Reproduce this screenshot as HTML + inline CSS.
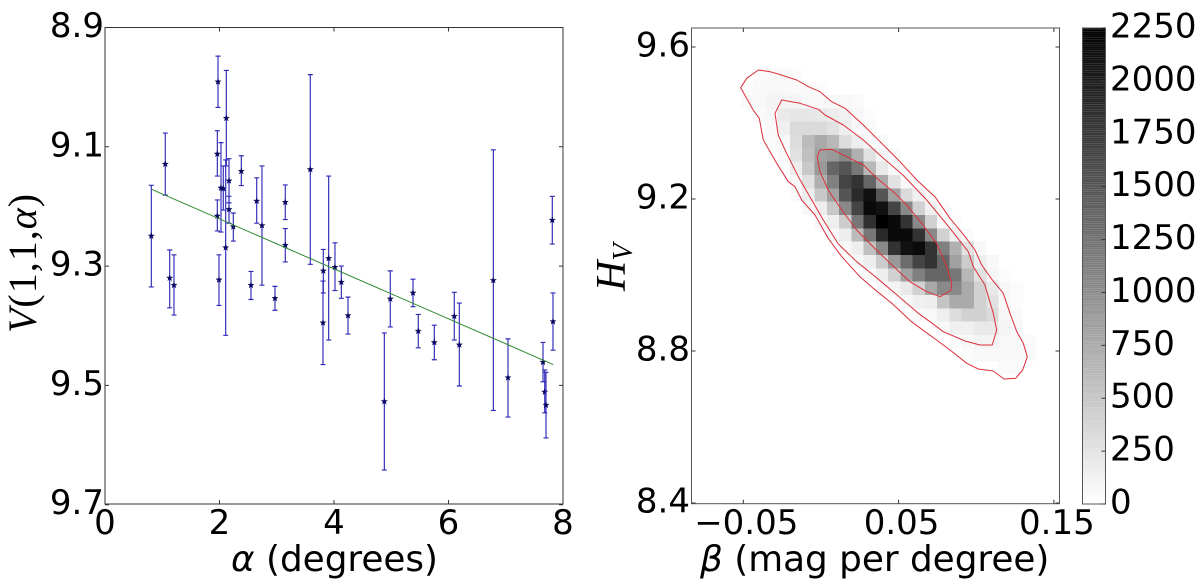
<!DOCTYPE html>
<html lang="en">
<head>
<meta charset="utf-8">
<title>Phase curve fit and posterior density</title>
<style>
html,body{margin:0;padding:0;background:#fff;}
#figure{display:block;width:1200px;height:582px;background:#fff;}
text{font-family:"DejaVu Sans","Liberation Sans",sans-serif;font-size:34px;fill:#000;}
.title{font-size:35.8px;}
.math{font-style:italic;}
.serif{font-family:"Liberation Serif","DejaVu Serif",serif;}
.y-math{font-size:40px;letter-spacing:1px;}
.h-math{font-size:42px;}
</style>
</head>
<body>
<svg id="figure" xmlns="http://www.w3.org/2000/svg" width="1200" height="582" viewBox="0 0 1200 582">
  <g id="left-panel"></g>
  <g id="right-panel"></g>
  <g id="colorbar"></g>
  <text x="231" y="571" class="title"><tspan class="math">α</tspan> (degrees)</text>
  <text transform="translate(36,333) rotate(-90)" class="y-math serif"><tspan class="math">V</tspan>(1,1,<tspan class="math">α</tspan>)</text>
  <text x="700" y="571" class="title"><tspan class="math">β</tspan> (mag per degree)</text>
  <text transform="translate(625,291) rotate(-90)" class="math serif h-math">H<tspan font-size="28" dy="7">V</tspan></text>
</svg>
<script>
// ---- left chart data ----
const alphaValues = [0.809,1.053,1.974,2.119,1.962,2.026,2.066,2.166,2.381,2.650,2.742,3.149,3.149,3.586,1.962,2.166,2.241,2.108,1.130,1.205,1.991,2.550,2.969,3.808,3.813,3.907,4.017,4.128,4.245,4.879,4.983,5.380,5.472,5.752,6.101,6.189,6.783,7.039,7.651,7.681,7.703,7.813,7.825];
const magnitudeValues = [9.2495,9.129,8.991,9.052,9.112,9.169,9.170,9.157,9.141,9.191,9.232,9.193,9.265,9.138,9.216,9.205,9.234,9.269,9.320,9.332,9.323,9.332,9.354,9.395,9.308,9.287,9.302,9.327,9.383,9.527,9.355,9.345,9.409,9.428,9.384,9.432,9.324,9.487,9.461,9.511,9.533,9.223,9.393];
const magnitudeUpper = [9.1645,9.077,8.948,8.972,9.073,9.093,9.132,9.120,9.115,9.152,9.132,9.164,9.237,8.979,9.189,9.183,9.211,9.122,9.273,9.281,9.281,9.309,9.334,9.325,9.272,9.149,9.261,9.300,9.352,9.412,9.308,9.322,9.381,9.399,9.344,9.362,9.105,9.422,9.428,9.474,9.478,9.183,9.345];
const magnitudeLower = [9.335,9.181,9.034,9.132,9.149,9.243,9.206,9.194,9.165,9.228,9.332,9.222,9.293,9.297,9.241,9.228,9.258,9.416,9.370,9.382,9.366,9.356,9.374,9.465,9.345,9.424,9.341,9.354,9.414,9.642,9.402,9.368,9.437,9.457,9.424,9.501,9.542,9.553,9.494,9.546,9.588,9.263,9.441];
const fitAlpha = [0.809,7.83];
const fitMagnitude = [9.171,9.465];
const leftXTicks = [0,2,4,6,8];
const leftYTicks = [8.9,9.1,9.3,9.5,9.7];

// ---- right chart data ----
const histBetaStart = -0.08316;
const histBetaStep = 0.0079;
const histHvStart = 9.5439;
const histHvStep = 0.03508;
const histFirstColumn = [5,4,4,5,6,6,7,7,8,8,9,10,11,12,13,14,15,17,18,20,21,22,25];
const histCounts = [
  [40,50,50,30],
  [30,50,60,60,50,40,30],
  [40,62,100,100,100,62,62,62,62,40],
  [40,62,190,220,220,200,170,120,62,30],
  [50,130,326,326,326,265,150,62,40],
  [40,62,300,600,750,630,300,150,62,40],
  [40,265,555,830,890,1040,700,265,80,40],
  [30,150,485,900,1350,1500,1200,630,194,62,30],
  [62,265,700,1125,1650,1800,1350,750,265,62,30],
  [40,150,485,830,1500,1880,2100,1500,830,326,132,40],
  [62,150,485,1040,1650,2160,2100,1650,1040,410,132,40],
  [62,150,450,1200,1830,2250,2160,1800,1040,410,62,30],
  [62,150,600,1200,1880,2160,2160,1800,1040,410,132,40],
  [62,150,555,1040,1800,2100,2150,1800,1125,700,265,62],
  [62,150,450,900,1300,1650,1800,1350,830,450,150,62],
  [62,150,410,830,1125,1350,1350,1200,630,265,80,30],
  [62,100,194,410,770,1040,1040,750,410,194,62,30],
  [62,130,150,520,750,750,410,265,62,30],
  [40,62,150,300,410,410,326,80,40],
  [62,130,130,194,194,90,62],
  [40,62,100,100,62,62,40],
  [40,62,62,62,62,40],
  [40,40]
];
const outerContourBeta = [-.0517,-.0478,-.0403,-.0328,-.0275,-.0156,-.0081,-.0006,.0069,.0155,.0273,.0391,.0509,.0617,.0734,.0831,.0928,.0992,.1035,.11,.1174,.1217,.1261,.1303,.1329,.1299,.1254,.1179,.111,.1013,.0939,.0831,.0745,.067,.0584,.0456,.0337,.0251,.0134,.0047,-.0038,-.0124,-.0167,-.021,-.0285,-.0371,-.0397,-.0436];
const outerContourHv = [9.4929,9.5176,9.5395,9.535,9.5289,9.5132,9.4955,9.4824,9.4561,9.4387,9.3947,9.3466,9.2982,9.25,9.2061,9.1492,9.1008,9.0658,9.0263,8.9887,8.9518,8.8992,8.8508,8.8203,8.785,8.75,8.7282,8.7263,8.7474,8.7526,8.7676,8.8026,8.8289,8.8508,8.8771,8.9255,8.965,8.9955,9.0482,9.0966,9.1579,9.1974,9.2324,9.2455,9.2939,9.3553,9.4124,9.4342];
const middleContourBeta = [-.0253,-.0135,-.0017,.0026,.0144,.0273,.0391,.0528,.0681,.0831,.0949,.0981,.1056,.111,.1132,.1103,.1024,.0928,.0788,.0702,.0627,.0477,.0337,.023,.0112,.0015,-.0071,-.0146,-.0221,-.0275,-.0296];
const middleContourHv = [9.4605,9.4518,9.4361,9.4211,9.3947,9.3553,9.3113,9.2632,9.1974,9.1229,9.0613,9.0218,8.9737,8.8992,8.8553,8.8158,8.8158,8.8263,8.8508,8.8771,8.8992,8.9518,9.0,9.035,9.0816,9.1447,9.2061,9.2587,9.3203,9.3684,9.4255];
const innerContourBeta = [-.0006,.0069,.0166,.0273,.0359,.0477,.0552,.0649,.0745,.081,.0842,.0838,.0767,.0681,.0573,.0445,.0337,.023,.0134,.0047,-.0006,-.0024];
const innerContourHv = [9.3289,9.3308,9.3113,9.2895,9.2553,9.215,9.1842,9.1361,9.0834,9.0218,8.9782,8.9605,8.9429,8.9561,8.9824,9.0308,9.0737,9.1184,9.1711,9.2237,9.2718,9.3113];
const rightXTicks = [-0.05,0.05,0.15];
const rightYTicks = [9.6,9.2,8.8,8.4];
const colorbarTicks = [0,250,500,750,1000,1250,1500,1750,2000,2250];
const colorbarMax = 2250;
const colorbarLevelCount = 256;

// ---- axis functions ----
const xLeft = a => 105 + 57.25 * a;
const yLeft = v => 27.5 + 596.5 * (v - 8.9);
const xRight = b => 820.95 + 1553 * b;
const yRight = h => 199 + 380 * (9.2 - h);
const yBar = c => 504 - c * 476 / colorbarMax;
const countGray = c => { const g = Math.round(255 * (1 - Math.min(c, colorbarMax) / colorbarMax)); return 'rgb(' + g + ',' + g + ',' + g + ')'; };

const NS = 'http://www.w3.org/2000/svg';
function make(tag, parent, attrs) {
  const el = document.createElementNS(NS, tag);
  for (const k in attrs) el.setAttribute(k, attrs[k]);
  parent.appendChild(el);
  return el;
}
const leftPanel = document.getElementById('left-panel');
const rightPanel = document.getElementById('right-panel');
const barPanel = document.getElementById('colorbar');
const AXIS = '#333';

// ---- left panel ----
for (let i = 0; i < alphaValues.length; i++) {
  const x = xLeft(alphaValues[i]), y = yLeft(magnitudeValues[i]);
  const top = yLeft(magnitudeUpper[i]), bot = yLeft(magnitudeLower[i]);
  const bar = make('path', leftPanel, {d: 'M' + x + ' ' + top + 'V' + bot + 'M' + (x - 2.5) + ' ' + top + 'h5M' + (x - 2.5) + ' ' + bot + 'h5', stroke: '#2f29b8', 'stroke-width': 1.15, fill: 'none'});
  
  
  let pts = '';
  for (let k = 0; k < 10; k++) {
    const r = k % 2 ? 1.3 : 3.2, t = -Math.PI / 2 + k * Math.PI / 5;
    pts += (x + r * Math.cos(t)).toFixed(2) + ',' + (y + r * Math.sin(t)).toFixed(2) + ' ';
  }
  const star = make('polygon', leftPanel, {points: pts, fill: '#06065e', stroke: '#06065e', 'stroke-width': 0.4});
  
  
}
const fit = make('line', leftPanel, {x1: xLeft(fitAlpha[0]), y1: yLeft(fitMagnitude[0]), x2: xLeft(fitAlpha[1]), y2: yLeft(fitMagnitude[1]), stroke: '#2f8a2f', 'stroke-width': 1});


const leftFrame = make('rect', leftPanel, {x: 105, y: 27.5, width: 458, height: 476.5, fill: 'none', stroke: AXIS, 'stroke-width': 1});


leftXTicks.forEach(t => {
  const x = xLeft(t);
  const tick = make('path', leftPanel, {d: 'M' + x + ' 504v-4M' + x + ' 27.5v4', stroke: AXIS, 'stroke-width': 1, fill: 'none'});
  
  
  const label = make('text', leftPanel, {x: x, y: 534, 'text-anchor': 'middle'});
  label.textContent = String(t);
  
  
});
leftYTicks.forEach(t => {
  const y = yLeft(t);
  const tick = make('path', leftPanel, {d: 'M105 ' + y + 'h4M563 ' + y + 'h-4', stroke: AXIS, 'stroke-width': 1, fill: 'none'});
  
  
  const label = make('text', leftPanel, {x: 104, y: y + 9.5, 'text-anchor': 'end'});
  label.textContent = t.toFixed(1);
  
  
});

// ---- right panel ----
histCounts.forEach((row, r) => {
  row.forEach((count, c) => {
    const col = histFirstColumn[r] + c;
    const x0 = xRight(histBetaStart + col * histBetaStep), x1 = xRight(histBetaStart + (col + 1) * histBetaStep);
    const y0 = yRight(histHvStart - r * histHvStep), y1 = yRight(histHvStart - (r + 1) * histHvStep);
    const cell = make('rect', rightPanel, {x: x0, y: y0, width: x1 - x0, height: y1 - y0, fill: countGray(count), 'shape-rendering': 'crispEdges'});
    
    
  });
});
[[outerContourBeta, outerContourHv, 'outer-contour'], [middleContourBeta, middleContourHv, 'middle-contour'], [innerContourBeta, innerContourHv, 'inner-contour']].forEach(set => {
  const d = set[0].map((b, i) => (i ? 'L' : 'M') + xRight(b).toFixed(1) + ' ' + yRight(set[1][i]).toFixed(1)).join('') + 'Z';
  const contour = make('path', rightPanel, {d: d, fill: 'none', stroke: '#dc2f3c', 'stroke-width': 1, 'stroke-linejoin': 'round'});
  
  
});
const rightFrame = make('rect', rightPanel, {x: 691.5, y: 28, width: 368, height: 475.7, fill: 'none', stroke: '#555', 'stroke-width': 1});


rightXTicks.forEach(t => {
  const x = xRight(t);
  const tick = make('path', rightPanel, {d: 'M' + x + ' 503.7v-4M' + x + ' 28v4', stroke: AXIS, 'stroke-width': 1, fill: 'none'});
  
  
  const label = make('text', rightPanel, {x: x + 3, y: 534, 'text-anchor': 'middle'});
  label.textContent = (t < 0 ? '\u2212' : '') + Math.abs(t).toFixed(2);
  
  
});
rightYTicks.forEach(t => {
  const y = yRight(t);
  const tick = make('path', rightPanel, {d: 'M691.5 ' + y + 'h4M1059.5 ' + y + 'h-4', stroke: AXIS, 'stroke-width': 1, fill: 'none'});
  
  
  const label = make('text', rightPanel, {x: 690, y: y + 9.5, 'text-anchor': 'end'});
  label.textContent = t.toFixed(1);
  
  
});

// ---- colorbar ----
for (let i = 0; i < colorbarLevelCount; i++) {
  const c0 = colorbarMax * i / colorbarLevelCount, c1 = colorbarMax * (i + 1) / colorbarLevelCount;
  const level = make('rect', barPanel, {x: 1082.5, y: yBar(c1), width: 23, height: yBar(c0) - yBar(c1), fill: countGray(c0)});
  
  
}
const barFrame = make('rect', barPanel, {x: 1082.5, y: 28, width: 23, height: 476, fill: 'none', stroke: '#555', 'stroke-width': 1});


colorbarTicks.forEach(t => {
  const y = yBar(t);
  const tick = make('path', barPanel, {d: 'M1105.5 ' + y + 'h-4', stroke: AXIS, 'stroke-width': 1, fill: 'none'});
  
  
  const label = make('text', barPanel, {x: 1110, y: y + 9.5});
  label.textContent = String(t);
  
  
});
</script>
</body>
</html>
